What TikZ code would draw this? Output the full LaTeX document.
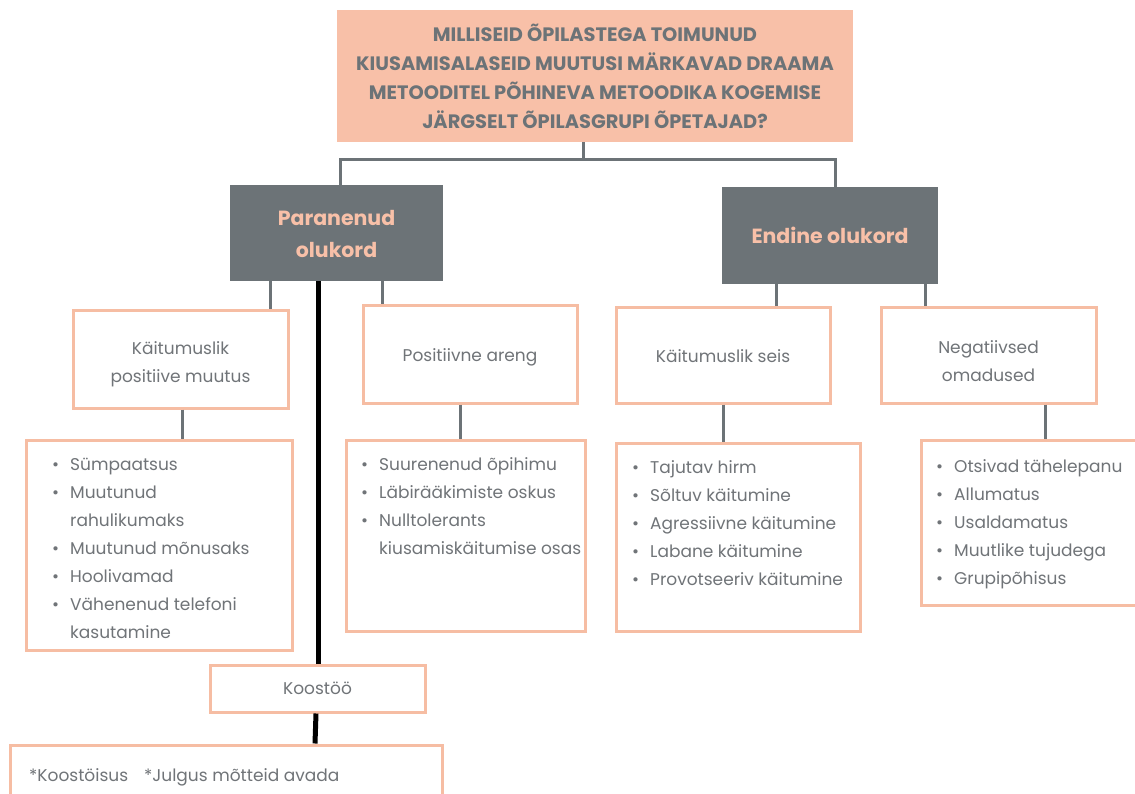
\documentclass[tikz,border=0pt]{standalone}
\usepackage{fontspec}
\setmainfont{Poppins}
\definecolor{peach}{HTML}{F8C0A8}
\definecolor{peachline}{HTML}{F6BDA3}
\definecolor{slate}{HTML}{6C7377}
\definecolor{txt}{HTML}{707478}
\newcommand{\bitem}[1]{\rule{0pt}{14pt}\makebox[18pt][l]{•}#1}
\newcommand{\bcont}[1]{\hspace*{18pt}#1}
\newcommand{\tallstrut}[1]{\rule{0pt}{#1pt}}
\begin{document}
\begin{tikzpicture}[x=1pt,y=-1pt,
  topbox/.style={fill=peach, draw=none, minimum width=516pt, minimum height=132pt, inner sep=0pt,
    text=slate, font=\bfseries\fontsize{19.4}{29}\selectfont, align=center},
  catbox/.style={fill=slate, draw=none, text=peach, inner sep=0pt,
    font=\bfseries\fontsize{20.5}{32}\selectfont, align=center},
  subbox/.style={draw=peachline, line width=3pt, fill=white, text=txt, inner sep=0pt,
    font=\fontsize{17}{28}\selectfont, align=center},
  listbox/.style={draw=peachline, line width=3pt, fill=white, inner sep=0pt},
  listtext/.style={text=txt, font=\fontsize{17}{28}\selectfont, align=left, inner sep=0pt, anchor=north west},
  conn/.style={draw=slate, line width=3pt},
  boldline/.style={draw=black, line width=5pt}
]
\useasboundingbox (0,0) rectangle (1135,794);
\fill[white] (0,0) rectangle (1135,794);

% connector coordinates
\coordinate (stem) at (583,0);
\coordinate (jl) at (340,160);
\coordinate (jr) at (835,160);
\coordinate (a1) at (270,0);
\coordinate (a2) at (382,0);
\coordinate (a3) at (776,0);
\coordinate (a4) at (925,0);
\coordinate (b1) at (182,0);
\coordinate (b2) at (460,0);
\coordinate (b3) at (723,0);
\coordinate (b4) at (1045,0);
\coordinate (c1) at (318,0);
\coordinate (c2) at (315,0);

% nodes
\node[topbox] (top) at (595,76) {MILLISEID ÕPILASTEGA TOIMUNUD\\KIUSAMISALASEID MUUTUSI MÄRKAVAD DRAAMA\\METOODITEL PÕHINEVA METOODIKA KOGEMISE\\JÄRGSELT ÕPILASGRUPI ÕPETAJAD?};
\node[catbox, minimum width=213pt, minimum height=96pt] (para) at (336.5,233) {\tallstrut{18}Paranenud\\olukord};
\node[catbox, minimum width=216pt, minimum height=97pt] (endine) at (830,235.5) {Endine olukord};

\node[subbox, minimum width=215pt, minimum height=97pt] (kpm) at (180.5,359.5) {\tallstrut{23}Käitumuslik\\positiive muutus};
\node[subbox, minimum width=214pt, minimum height=97pt] (pa) at (470,354.5) {\tallstrut{19}Positiivne areng};
\node[subbox, minimum width=214pt, minimum height=95pt] (ks) at (723,355.5) {\tallstrut{14}Käitumuslik seis};
\node[subbox, minimum width=215pt, minimum height=95pt] (neg) at (988.5,355.5) {\tallstrut{25}Negatiivsed\\omadused};

\node[listbox, minimum width=266pt, minimum height=210pt] (l1) at (159,545) {};
\node[listbox, minimum width=239pt, minimum height=191pt] (l2) at (465.5,535.5) {};
\node[listbox, minimum width=244pt, minimum height=188pt] (l3) at (738,537) {};
\node[listbox, minimum width=225pt, minimum height=165pt] (l4) at (1033.5,522.5) {};

\node[listtext] (l1t) at (52,456) {\bitem{Sümpaatsus}\\\bitem{Muutunud}\\\bcont{rahulikumaks}\\\bitem{Muutunud mõnusaks}\\\bitem{Hoolivamad}\\\bitem{Vähenenud telefoni}\\\bcont{kasutamine}};
\node[listtext] (l2t) at (361,456) {\bitem{Suurenenud õpihimu}\\\bitem{Läbirääkimiste oskus}\\\bitem{Nulltolerants}\\\bcont{kiusamiskäitumise osas}};
\node[listtext] (l3t) at (632,459) {\bitem{Tajutav hirm}\\\bitem{Sõltuv käitumine}\\\bitem{Agressiivne käitumine}\\\bitem{Labane käitumine}\\\bitem{Provotseeriv käitumine}};
\node[listtext] (l4t) at (936,458) {\bitem{Otsivad tähelepanu}\\\bitem{Allumatus}\\\bitem{Usaldamatus}\\\bitem{Muutlike tujudega}\\\bitem{Grupipõhisus}};

\node[subbox, minimum width=215pt, minimum height=47pt] (koos) at (317.5,688.5) {Koostöö};
\node[listbox, minimum width=432pt, minimum height=70pt] (bot) at (226,780) {};
\node[listtext, anchor=base west] (bott) at (29,781) {*Koostöisus\hspace{16pt}*Julgus mõtteid avada};

% connectors
\draw[conn] (stem |- top.south) -- (stem |- jl);
\draw[conn] (jl |- para.north) -- (jl) -- (jr) -- (jr |- endine.north);
\draw[conn] (a1 |- para.south) -- (a1 |- kpm.north);
\draw[conn] (a2 |- para.south) -- (a2 |- pa.north);
\draw[conn] (a3 |- endine.south) -- (a3 |- ks.north);
\draw[conn] (a4 |- endine.south) -- (a4 |- neg.north);
\draw[conn] (b1 |- kpm.south) -- (b1 |- l1.north);
\draw[conn] (b2 |- pa.south) -- (b2 |- l2.north);
\draw[conn] (b3 |- ks.south) -- (b3 |- l3.north);
\draw[conn] (b4 |- neg.south) -- (b4 |- l4.north);
\draw[boldline] (c1 |- para.south) -- (c1 |- koos.north);
\draw[boldline] ([xshift=-1.5pt]koos.south) -- (c2 |- bot.north);
\end{tikzpicture}
\end{document}
